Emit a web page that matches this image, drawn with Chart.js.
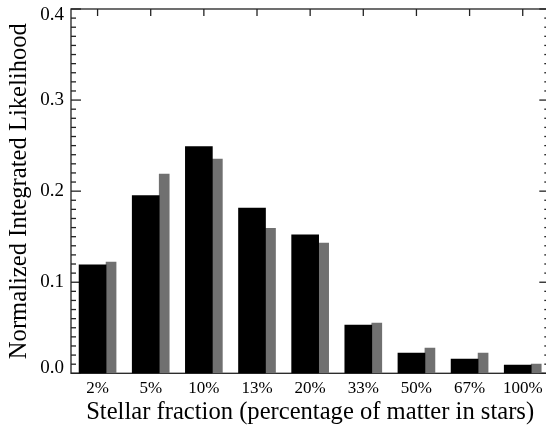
<!DOCTYPE html>
<html>
<head>
<meta charset="utf-8">
<title>Stellar fraction likelihood</title>
<script src="https://cdn.jsdelivr.net/npm/chart.js@4.4.1/dist/chart.umd.min.js"></script>
<style>
    html, body { margin: 0; padding: 0; background: #fff; overflow: hidden; }
    #chart { display: block; }
</style>
</head>
<body>
<canvas id="chart" width="560" height="432"></canvas>
<script>
const categories = ['2%', '5%', '10%', '13%', '20%', '33%', '50%', '67%', '100%'];
const likelihoodBlack = [0.119, 0.195, 0.249, 0.1815, 0.152, 0.053, 0.0223, 0.0157, 0.0091];
const likelihoodGray = [0.1222, 0.2188, 0.2353, 0.1592, 0.1431, 0.0552, 0.0278, 0.0223, 0.0102];
const yTicks = [0, 0.1, 0.2, 0.3, 0.4];

// bars sit side by side around each category index
const blackShift = -0.094;
const grayShift = 0.254;

const serif = 'Liberation Serif';
const lastY = yTicks.length - 1;

// box frame with inward ticks (minor every 0.01 on both sides, one per category on top)
const axisFrame = {
    id: 'axisFrame',
    beforeDatasetsDraw(chart) {
        const { ctx, chartArea: { left, right, top, bottom }, scales: { x, y } } = chart;
        const line = (x1, y1, x2, y2) => {
            ctx.beginPath();
            ctx.moveTo(x1, y1);
            ctx.lineTo(x2, y2);
            ctx.stroke();
        };
        ctx.save();
        ctx.strokeStyle = '#222';
        ctx.lineWidth = 1.3;
        ctx.strokeRect(left, top, right - left, bottom - top);
        for (let k = 0; k <= 40; k++) {
            const py = y.getPixelForValue(k / 100);
            const len = k % 10 === 0 ? 10 : 5;
            line(left, py, left + len, py);
            line(right, py, right - len, py);
        }
        categories.forEach((c, i) => {
            const px = x.getPixelForValue(i);
            line(px, top, px, top + 7);
        });
        ctx.restore();
    }
};

const ctx = document.getElementById('chart').getContext('2d');
new Chart(ctx, {
    type: 'bar',
    data: {
        datasets: [{
            data: likelihoodBlack.map((v, i) => ({ x: i + blackShift, y: v })),
            backgroundColor: '#000000',
            barThickness: 27,
            grouped: false
        }, {
            data: likelihoodGray.map((v, i) => ({ x: i + grayShift, y: v })),
            backgroundColor: '#707070',
            barThickness: 10,
            grouped: false
        }]
    },
    options: {
        responsive: false,
        devicePixelRatio: 1,
        animation: false,
        layout: { padding: { left: 0, top: 9, right: 10.7, bottom: 0 } },
        plugins: {
            legend: { display: false },
            tooltip: { enabled: false }
        },
        scales: {
            x: {
                type: 'linear',
                offset: false,
                min: -0.5,
                max: 8.5,
                grid: { display: false, drawTicks: false, offset: false },
                border: { display: false },
                afterBuildTicks: axis => { axis.ticks = categories.map((c, i) => ({ value: i })); },
                afterFit: scale => {
                    scale.height = 58.7;
                    scale.paddingLeft = 0;
                    scale.paddingRight = 0;
                },
                ticks: {
                    padding: 5.5,
                    maxRotation: 0,
                    autoSkip: false,
                    color: '#000',
                    font: { family: serif, size: 17 },
                    callback: value => categories[value] ?? ''
                },
                title: {
                    display: true,
                    text: 'Stellar fraction (percentage of matter in stars)',
                    color: '#000',
                    font: { family: serif, size: 24.6 },
                    padding: { top: 0, bottom: 4.5 }
                }
            },
            y: {
                min: 0,
                max: 0.4,
                grid: { display: false, drawTicks: false },
                border: { display: false },
                afterBuildTicks: axis => { axis.ticks = yTicks.map(v => ({ value: v })); },
                afterFit: scale => {
                    scale.width = 71;
                    scale.paddingTop = 0;
                    scale.paddingBottom = 0;
                },
                ticks: {
                    padding: 7,
                    color: '#000',
                    // end labels are pulled inside the frame
                    font: c => ({
                        family: serif,
                        size: 19,
                        lineHeight: c.index === lastY ? '12px' : c.index === 0 ? '10px' : 1.2
                    }),
                    callback: (value, index) => {
                        const text = value.toFixed(1);
                        if (index === lastY) return ['', text];
                        if (index === 0) return [text, ''];
                        return text;
                    }
                },
                title: {
                    display: true,
                    text: 'Normalized Integrated Likelihood',
                    color: '#000',
                    font: { family: serif, size: 24.6 },
                    padding: { top: 5, bottom: 0 }
                }
            }
        }
    },
    plugins: [axisFrame]
});
</script>
</body>
</html>
